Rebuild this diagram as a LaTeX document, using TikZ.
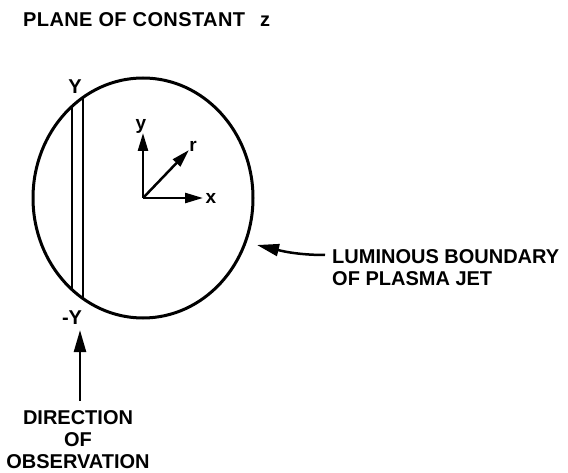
\documentclass[tikz,border=0pt]{standalone}
\usepackage{fontspec}
\setmainfont{Liberation Sans}
\usetikzlibrary{arrows.meta,shapes.geometric}
\begin{document}
\begin{tikzpicture}[x=1pt,y=-1pt,
  lab/.style={font=\fontsize{20}{22}\selectfont\bfseries, inner sep=0pt},
  small/.style={font=\fontsize{19}{21}\selectfont\bfseries, inner sep=0pt},
  axis/.style={-{Triangle[length=18pt,width=10pt]}, line width=2.5pt},
  bigarr/.style={-{Triangle[length=22pt,width=12pt]}, line width=2.5pt},
  chord/.style={line width=2pt}]
\useasboundingbox (0,0) rectangle (568,473);
% title
\node[lab, anchor=west] (title) at (23,20) {\addfontfeature{LetterSpace=2}PLANE OF CONSTANT\hspace{15pt}z};
% plasma jet boundary
\node[draw, ellipse, minimum width=220pt, minimum height=240pt, inner sep=0pt, line width=3pt] (jet) at (143,198) {};
% chord lines
\draw[chord] (72.3,106) -- (72.3,290);
\draw[chord] (83.3,97) -- (83.3,299);
% Y labels
\node[lab] (ytop) at (75,87) {Y};
\node[lab] (ybot) at (72,318) {-Y};
% axes
\coordinate (yend) at (143,133);
\coordinate (xend) at (203,198);
\coordinate (rend) at (189,150);
\draw[axis] (jet.center) -- (yend);
\draw[axis] (jet.center) -- (xend);
\draw[axis] (jet.center) -- (rend);
\node[small] (ylab) at (141,126) {y};
\node[small] (xlab) at (211,198) {x};
\node[small] (rlab) at (193,146) {r};
% luminous boundary label
\node[lab, anchor=west, align=left] (lum) at (332,268) {LUMINOUS BOUNDARY\\OF PLASMA JET};
\coordinate (tipL) at (257,245);
\draw[bigarr] ([xshift=-7pt,yshift=13pt]lum.west) .. controls (295,255) and (278,250) .. (tipL);
% direction of observation
\node[lab, align=center] (dir) at (78,440) {DIRECTION\\OF\\OBSERVATION};
\draw[bigarr, shorten <=10pt, shorten >=5pt] ([xshift=2pt]dir.north) -- ([xshift=8pt]ybot.south);
\end{tikzpicture}
\end{document}
